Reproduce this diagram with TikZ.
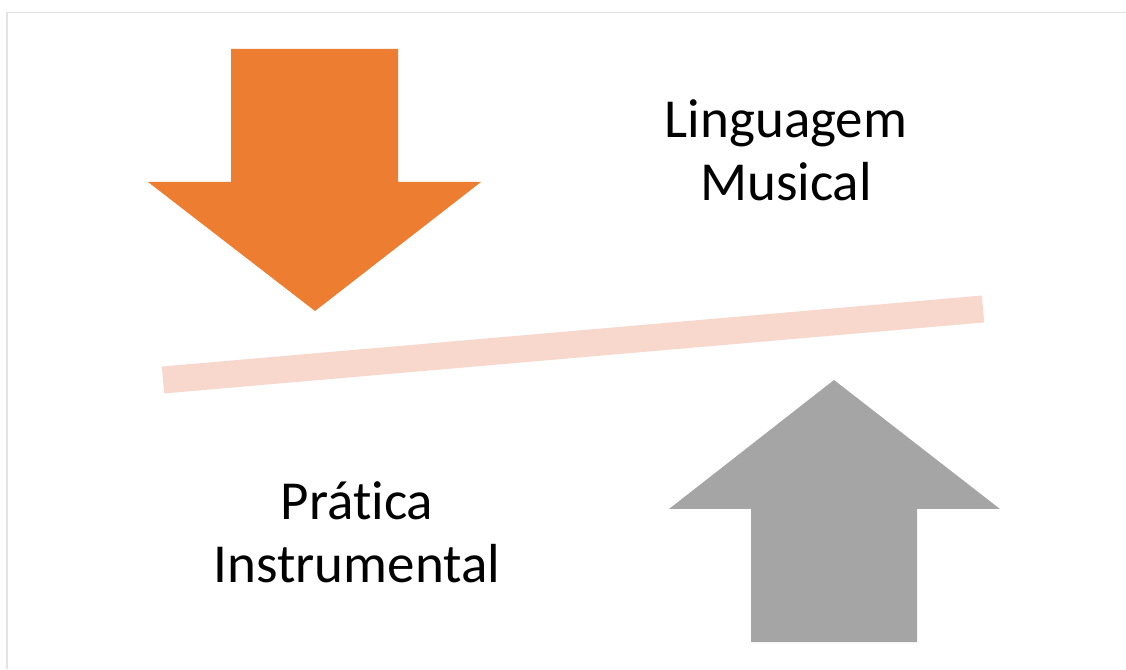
\documentclass[tikz,border=0pt]{standalone}
\usepackage{fontspec}
\setmainfont{Carlito}[Ligatures=NoCommon]
\definecolor{arroworange}{HTML}{ED7D31}
\definecolor{arrowgray}{HTML}{A5A5A5}
\definecolor{beampink}{HTML}{F8D7CD}
\definecolor{framegray}{HTML}{E3E3E3}

\begin{document}
\begin{tikzpicture}[x=1pt, y=1pt,
    lbl/.style={align=center, inner sep=0pt, font=\fontsize{55}{63}\selectfont}]

          \useasboundingbox (0,0) rectangle (1126,669);
          \draw[framegray, line width=1.5] (7,0) -- (7,656.5) -- (1126,656.5);

          % balance beam
          \coordinate (beamL) at (163,289);
          \coordinate (beamR) at (983,360);
          \draw[beampink, line width=27] (beamL) -- (beamR);

          % pushing down
          \fill[arroworange] (231,620) -- (398,620) -- (398,487) -- (481,487)
            -- (315,358) -- (148,487) -- (231,487) -- cycle;

          % pushing up
          \fill[arrowgray] (751,27) -- (917,27) -- (917,160) -- (1000,160)
            -- (834,289) -- (669,160) -- (751,160) -- cycle;

          \node[lbl] (linguagem) at (786,519) {Linguagem\\Musical};
          \node[lbl] (pratica) at (357,137) {Prática\\Instrumental};
        \end{tikzpicture}
\end{document}
